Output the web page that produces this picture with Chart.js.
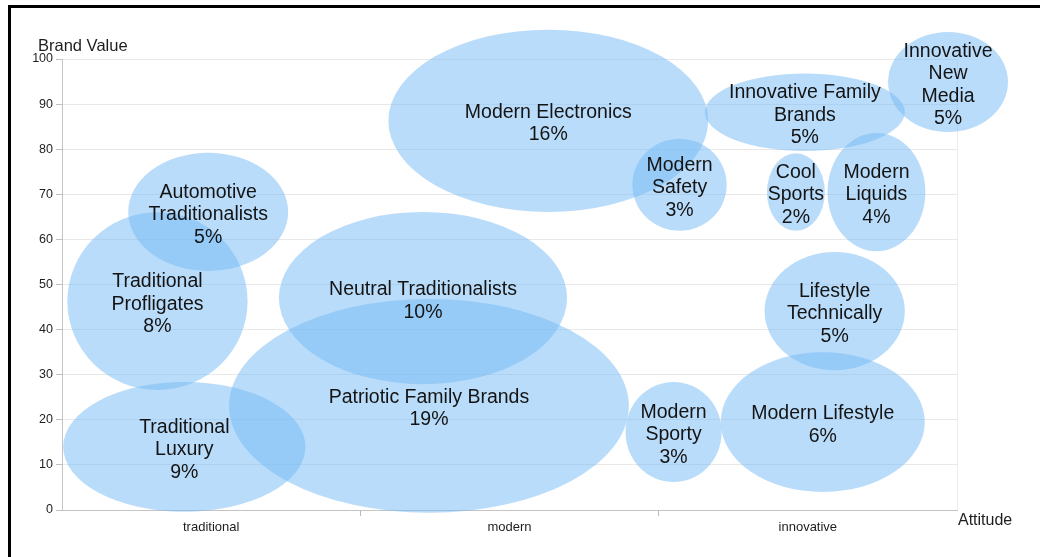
<!DOCTYPE html>
<html>
<head>
<meta charset="utf-8">
<script src="https://cdn.jsdelivr.net/npm/chart.js@4.4.1/dist/chart.umd.min.js"></script>
<style>
    html, body { margin: 0; padding: 0; background: #fff; }
    #wrap { position: relative; width: 1040px; height: 557px; overflow: hidden; }
    #frame {
        position: absolute; left: 8px; top: 5px; right: -10px; bottom: -10px;
        border-top: 3px solid #000; border-left: 3px solid #000; pointer-events: none;
    }
    canvas { position: absolute; left: 0; top: 0; }
</style>
</head>
<body>
<div id="wrap">
    <canvas id="chart" width="1040" height="557"></canvas>
    <div id="frame"></div>
</div>
<script>
// Segment map: attitude (x) vs brand value (y), ellipse size = segment extent
const attitudeLabels = ['traditional', 'modern', 'innovative'];

const segmentLines = [
    ['Modern Electronics'],
    ['Innovative Family', 'Brands'],
    ['Innovative', 'New', 'Media'],
    ['Modern', 'Safety'],
    ['Cool', 'Sports'],
    ['Modern', 'Liquids'],
    ['Automotive', 'Traditionalists'],
    ['Traditional', 'Profligates'],
    ['Neutral Traditionalists'],
    ['Patriotic Family Brands'],
    ['Traditional', 'Luxury'],
    ['Lifestyle', 'Technically'],
    ['Modern Lifestyle'],
    ['Modern', 'Sporty']
];
const shares = [16, 5, 5, 3, 2, 4, 5, 8, 10, 19, 9, 5, 6, 3];
const attitude = [1.63, 2.49, 2.97, 2.07, 2.46, 2.73, 0.49, 0.32, 1.21, 1.23, 0.41, 2.59, 2.55, 2.05];
const brandValue = [86.3, 88.2, 94.9, 72.1, 70.5, 70.5, 66.1, 46.3, 47.0, 23.1, 14.0, 44.1, 19.5, 17.3];
const attitudeSpread = [0.536, 0.335, 0.201, 0.158, 0.097, 0.164, 0.268, 0.302, 0.483, 0.670, 0.406, 0.235, 0.342, 0.161];
const valueSpread = [20.2, 8.6, 11.1, 10.2, 8.6, 13.1, 13.1, 19.7, 19.1, 23.7, 14.4, 13.1, 15.5, 11.1];

const FONT = '"Liberation Sans", Arial, sans-serif';

// Draw each segment as an ellipse, then its label on top
const ellipsePlugin = {
    id: 'ellipses',
    beforeDatasetsDraw(chart) {
        const { ctx, scales: { x, y } } = chart;
        const ds = chart.data.datasets[0];
        const meta = chart.getDatasetMeta(0);
        ctx.save();
        ds.data.forEach((p, i) => {
            const el = meta.data[i];
            const rx = Math.abs(x.getPixelForValue(p.x + p.rx) - el.x);
            const ry = Math.abs(y.getPixelForValue(p.y + p.ry) - el.y);
            ctx.beginPath();
            ctx.ellipse(el.x, el.y, rx, ry, 0, 0, Math.PI * 2);
            ctx.fillStyle = ds.fillColor;
            ctx.fill();
        });
        ctx.restore();
    },
    afterDatasetsDraw(chart) {
        const { ctx } = chart;
        const meta = chart.getDatasetMeta(0);
        const lineH = 22.5;
        ctx.save();
        ctx.font = '19.5px ' + FONT;
        ctx.fillStyle = '#141414';
        ctx.textAlign = 'center';
        ctx.textBaseline = 'middle';
        segmentLines.forEach((lines, i) => {
            const el = meta.data[i];
            const all = lines.concat([shares[i] + '%']);
            // labels sit a little below the ellipse centre in the original
            const top = el.y + 3 - (all.length - 1) * lineH / 2;
            all.forEach((t, j) => ctx.fillText(t, el.x, top + j * lineH));
        });
        ctx.restore();
    },
    afterDraw(chart) {
        const { ctx, chartArea } = chart;
        ctx.save();
        ctx.font = '16.5px ' + FONT;
        ctx.fillStyle = '#1e1e1e';
        ctx.textBaseline = 'middle';
        ctx.textAlign = 'left';
        ctx.fillText('Brand Value', 38, chartArea.top - 13);
        ctx.font = '16px ' + FONT;
        ctx.fillText('Attitude', chartArea.right + 1, chartArea.bottom + 11);
        ctx.restore();
    }
};

const points = attitude.map((a, i) => ({
    x: a, y: brandValue[i], rx: attitudeSpread[i], ry: valueSpread[i]
}));

new Chart(document.getElementById('chart'), {
    type: 'scatter',
    data: {
        datasets: [{
            data: points,
            pointRadius: 0,
            pointHoverRadius: 0,
            fillColor: 'rgba(115, 185, 245, 0.5)'
        }]
    },
    options: {
        responsive: false,
        animation: false,
        events: [],
        layout: { padding: { left: 0, top: 59, right: 83, bottom: 0 } },
        plugins: { legend: { display: false }, tooltip: { enabled: false } },
        scales: {
            x: {
                type: 'linear',
                min: 0,
                max: 3,
                afterFit: (scale) => { scale.height = 47; },
                border: { color: '#c4c4c4', width: 1 },
                grid: {
                    color: (c) => (c.tick && c.tick.value === 3) ? '#ececec' : 'rgba(0,0,0,0)',
                    tickColor: (c) => (c.tick && (c.tick.value === 1 || c.tick.value === 2)) ? '#b8b8b8' : 'rgba(0,0,0,0)',
                    tickLength: 6
                },
                ticks: {
                    stepSize: 0.5,
                    autoSkip: false,
                    maxRotation: 0,
                    padding: 4,
                    color: '#1e1e1e',
                    font: { family: FONT, size: 13 },
                    callback: (v) => (v % 1 === 0.5) ? attitudeLabels[Math.floor(v)] : ''
                }
            },
            y: {
                min: 0,
                max: 100,
                afterFit: (scale) => { scale.width = 62; },
                border: { color: '#c4c4c4', width: 1 },
                grid: { color: '#e8e8e8', tickColor: '#c0c0c0', tickLength: 6 },
                ticks: {
                    stepSize: 10,
                    padding: 3,
                    color: '#1e1e1e',
                    font: { family: FONT, size: 12.5 }
                }
            }
        }
    },
    plugins: [ellipsePlugin]
});
</script>
</body>
</html>
